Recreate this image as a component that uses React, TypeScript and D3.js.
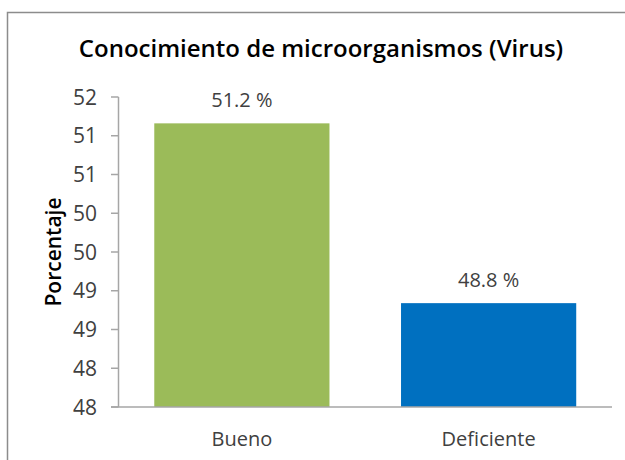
import React from "react";
import * as d3 from "d3";

const categories = ["Bueno", "Deficiente"];
const values = [51.16, 48.84];
const barColors = ["#9BBB59", "#0070C0"];
const tickValues = [47.5, 48, 48.5, 49, 49.5, 50, 50.5, 51, 51.5];
const tickLabels = ["48", "48", "49", "49", "50", "50", "51", "51", "52"];
const title = "Conocimiento de microorganismos (Virus)";
const yTitle = "Porcentaje";

const W = 625;
const H = 460;
const FONT = "'Open Sans', 'Noto Sans', sans-serif";

export default function App() {
  const plotLeft = 118.5;
  const plotRight = 612;
  const plotTop = 97;
  const plotBottom = 407;

  const x = d3.scaleBand<string>().domain(categories).range([plotLeft, plotRight]).paddingInner(0.29).paddingOuter(0.145);
  const y = d3.scaleLinear().domain([47.5, 51.5]).range([plotBottom, plotTop]);
  const fmt = d3.format(".1f");

  return (
    <svg width={W} height={H} style={{ position: "absolute", left: 0, top: 0, background: "#fff" }} fontFamily={FONT}>
      <rect x={7.5} y={12.5} width={700} height={600} fill="#fff" stroke="#8c8c8c" strokeWidth={1.5} />
      <text x={321} y={57} textAnchor="middle" fontSize={24} fontWeight={600} fill="#000">{title}</text>

      {/* bars */}
      {categories.map((c, i) => (
        <g key={c}>
          <rect x={x(c)!} y={y(values[i])} width={x.bandwidth()} height={plotBottom - y(values[i])} fill={barColors[i]} />
          <text x={x(c)! + x.bandwidth() / 2} y={y(values[i]) - 16} textAnchor="middle" fontSize={20} fill="#404040">
            {fmt(values[i]) + " %"}
          </text>
          <text x={x(c)! + x.bandwidth() / 2} y={446} textAnchor="middle" fontSize={20} fill="#404040">{c}</text>
        </g>
      ))}

      {/* y axis */}
      <line x1={plotLeft} x2={plotLeft} y1={plotTop} y2={plotBottom} stroke="#a6a6a6" strokeWidth={1.5} />
      {tickValues.map((t, i) => (
        <g key={i}>
          <line x1={plotLeft - 7.5} x2={plotLeft} y1={y(t)} y2={y(t)} stroke="#a6a6a6" strokeWidth={1.5} />
          <text x={97} y={y(t)} dy="0.36em" textAnchor="end" fontSize={21} fill="#404040">{tickLabels[i]}</text>
        </g>
      ))}
      {/* x axis */}
      <line x1={plotLeft - 7.5} x2={plotRight} y1={plotBottom} y2={plotBottom} stroke="#a6a6a6" strokeWidth={1.5} />

      <text transform={`translate(61,252) rotate(-90)`} textAnchor="middle" fontSize={21} fontWeight={600} fill="#000">{yTitle}</text>
    </svg>
  );
}
